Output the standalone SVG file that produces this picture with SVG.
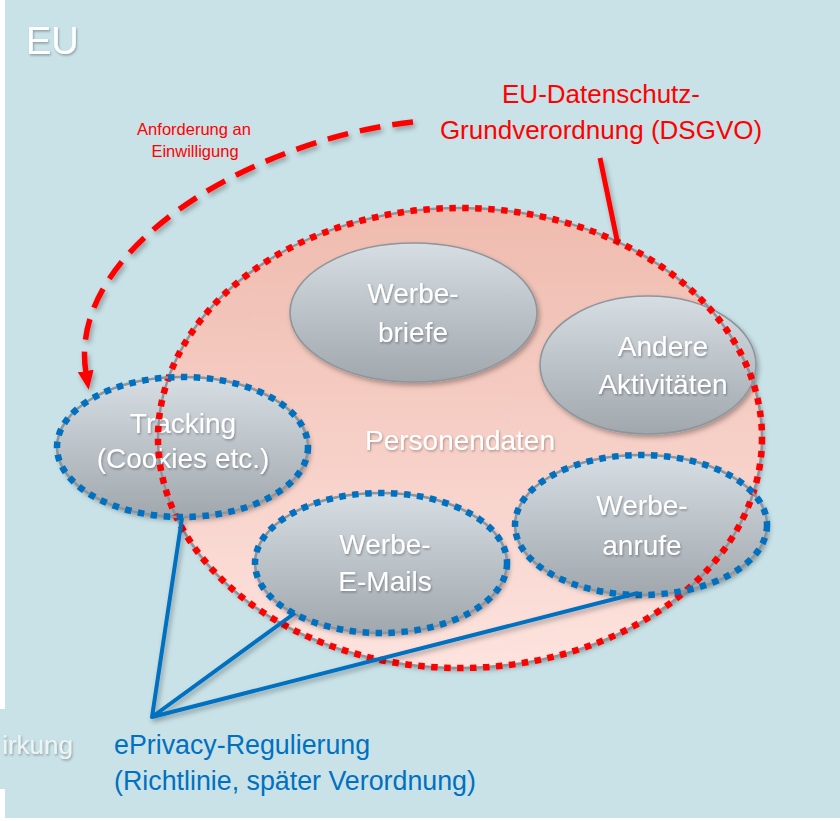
<svg xmlns="http://www.w3.org/2000/svg" width="840" height="821" viewBox="0 0 840 821">
<defs>
<linearGradient id="gPink" x1="0" y1="0" x2="0" y2="1">
<stop offset="0" stop-color="#efbbae"/>
<stop offset="1" stop-color="#fde3de"/>
</linearGradient>
<linearGradient id="gGray" x1="0" y1="0" x2="0" y2="1">
<stop offset="0" stop-color="#d6dde3"/>
<stop offset="1" stop-color="#a0a7ad"/>
</linearGradient>
<filter id="sh" x="-20%" y="-20%" width="140%" height="140%">
<feDropShadow dx="2" dy="3" stdDeviation="2.5" flood-color="#000" flood-opacity="0.3"/>
</filter>
<filter id="tsh" x="-10%" y="-20%" width="120%" height="150%">
<feDropShadow dx="1" dy="1.5" stdDeviation="1" flood-color="#000" flood-opacity="0.3"/>
</filter>
<marker id="arrRed" markerUnits="userSpaceOnUse" markerWidth="22" markerHeight="20" refX="2" refY="8" orient="auto">
<path d="M0,0 L19,8 L0,16 z" fill="#ff0000"/>
</marker>
</defs>
<style>
text { font-family: "Liberation Sans", Arial, sans-serif; }
.lbl { fill: #ffffff; font-size: 28px; text-anchor: middle; filter: url(#tsh); }
.red { fill: #ff0000; text-anchor: middle; }
.blue { fill: #0070c0; font-size: 26.8px; }
.gray { fill: url(#gGray); stroke: #8e969d; stroke-width: 1.6; filter: url(#sh); }
.grayline { fill: none; stroke: #8e969d; stroke-width: 2.5; }
.bdots { fill: none; stroke: #0070c0; stroke-width: 6.5; stroke-dasharray: 6.5 6.5; }
.rdots { fill: none; stroke: #ff0000; stroke-width: 6.5; stroke-dasharray: 6.5 6.5; }
.conn { fill: none; stroke: #0070c0; stroke-width: 4; stroke-linejoin: round; filter: url(#sh); }
</style>

<!-- background -->
<rect x="0" y="0" width="840" height="821" fill="#ffffff"/>
<rect x="5" y="0" width="835" height="818" fill="#c8e2e7"/>
<rect x="0" y="709" width="5" height="80" fill="#c8e2e7"/>

<g id="title">
<text x="26" y="54" font-size="38" fill="#ffffff" filter="url(#tsh)">EU</text>
</g>

<g id="personendaten-bg">
<ellipse cx="460" cy="438" rx="302" ry="230" fill="url(#gPink)" filter="url(#sh)"/>
<text class="lbl" x="460" y="450">Personendaten</text>
</g>

<g id="werbebriefe">
<ellipse class="gray" cx="413.5" cy="312.5" rx="123.5" ry="69.5"/>
<text class="lbl" x="413" y="303">Werbe-</text>
<text class="lbl" x="413" y="342">briefe</text>
</g>

<g id="andere">
<ellipse class="gray" cx="648" cy="365" rx="108" ry="69"/>
<text class="lbl" x="663" y="356">Andere</text>
<text class="lbl" x="663" y="394">Aktivitäten</text>
</g>

<g id="tracking">
<ellipse class="gray" cx="182.5" cy="447" rx="125.5" ry="70"/>
<text class="lbl" x="183" y="433">Tracking</text>
<text class="lbl" x="183" y="468">(Cookies etc.)</text>
</g>

<g id="werbe-emails">
<ellipse class="gray" cx="381" cy="563" rx="126" ry="70"/>
<text class="lbl" x="385" y="554">Werbe-</text>
<text class="lbl" x="385" y="591">E-Mails</text>
</g>

<g id="werbeanrufe">
<ellipse class="gray" cx="641" cy="525" rx="126" ry="70"/>
<text class="lbl" x="642" y="515">Werbe-</text>
<text class="lbl" x="642" y="555">anrufe</text>
</g>

<g id="dsgvo">
<ellipse class="grayline" cx="460" cy="438" rx="302" ry="230"/>
<ellipse class="rdots" cx="460" cy="438" rx="302" ry="230"/>
<text class="red" x="601" y="103" font-size="26">EU-Datenschutz-</text>
<text class="red" x="601" y="139" font-size="26">Grundverordnung (DSGVO)</text>
</g>

<g id="eprivacy-outlines">
<ellipse class="grayline" cx="182.5" cy="447" rx="125.5" ry="70"/>
<ellipse class="bdots" cx="182.5" cy="447" rx="125.5" ry="70"/>
<ellipse class="grayline" cx="381" cy="563" rx="126" ry="70"/>
<ellipse class="bdots" cx="381" cy="563" rx="126" ry="70"/>
<ellipse class="grayline" cx="641" cy="525" rx="126" ry="70"/>
<ellipse class="bdots" cx="641" cy="525" rx="126" ry="70"/>
</g>

<g id="connectors">
<path d="M413,122 C250,140 66,250 86,373" fill="none" stroke="#ff0000" stroke-width="5.5" stroke-dasharray="21 12" marker-end="url(#arrRed)" filter="url(#sh)"/>
<line x1="600" y1="158" x2="617" y2="240" stroke="#ff0000" stroke-width="5" filter="url(#sh)"/>
<path class="conn" d="M182,518 L152,717 L295,613 M152,717 L638,593"/>
</g>

<g id="labels">
<text class="red" x="194" y="135" font-size="16.5">Anforderung an</text>
<text class="red" x="195" y="157" font-size="16.5">Einwilligung</text>
<text class="blue" x="114" y="754">ePrivacy-Regulierung</text>
<text class="blue" x="114" y="790">(Richtlinie, später Verordnung)</text>
<text x="73" y="754" font-size="26" fill="#eef3f4" text-anchor="end" filter="url(#tsh)">irkung</text>
</g>
</svg>
